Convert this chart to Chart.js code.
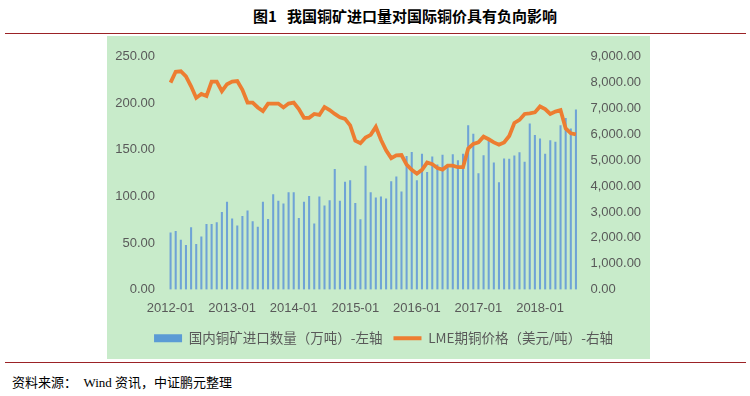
<!DOCTYPE html>
<html>
<head>
<meta charset="utf-8">
<script src="https://cdn.jsdelivr.net/npm/chart.js@4/dist/chart.umd.min.js"></script>
<style>
  html, body { margin:0; padding:0; background:#ffffff; }
  body { width:750px; height:396px; position:relative; overflow:hidden; }
  #title { position:absolute; left:15px; top:5px; width:780px; text-align:center;
    font-family:"Noto Sans CJK SC", sans-serif; font-weight:bold; font-size:15px; color:#000; white-space:pre; }
  .rule { position:absolute; left:5px; width:741px; height:1px; background:#9b2226; }
  #box { position:absolute; left:107px; top:36px; width:543px; height:323px; background:#c8ebca; }
  #c { position:absolute; left:107px; top:36px; }
  #src { position:absolute; left:12px; top:372px; font-family:"Liberation Serif","Noto Sans CJK SC",serif;
    font-size:13px; color:#000; white-space:pre; }
</style>
</head>
<body>
<div id="title">图1   我国铜矿进口量对国际铜价具有负向影响</div>
<div class="rule" style="top:33px"></div>
<div id="box"></div>
<canvas id="c" width="553" height="323"></canvas>
<div class="rule" style="top:362px"></div>
<div id="src">资料来源：  Wind 资讯，中证鹏元整理</div>
<script>
const categories = [
 "2012-01","2012-02","2012-03","2012-04","2012-05","2012-06","2012-07","2012-08","2012-09","2012-10","2012-11","2012-12",
 "2013-01","2013-02","2013-03","2013-04","2013-05","2013-06","2013-07","2013-08","2013-09","2013-10","2013-11","2013-12",
 "2014-01","2014-02","2014-03","2014-04","2014-05","2014-06","2014-07","2014-08","2014-09","2014-10","2014-11","2014-12",
 "2015-01","2015-02","2015-03","2015-04","2015-05","2015-06","2015-07","2015-08","2015-09","2015-10","2015-11","2015-12",
 "2016-01","2016-02","2016-03","2016-04","2016-05","2016-06","2016-07","2016-08","2016-09","2016-10","2016-11","2016-12",
 "2017-01","2017-02","2017-03","2017-04","2017-05","2017-06","2017-07","2017-08","2017-09","2017-10","2017-11","2017-12",
 "2018-01","2018-02","2018-03","2018-04","2018-05","2018-06","2018-07","2018-08"
];
const importVolume = [
 61,62.5,53,47.5,66.5,48.5,56.5,70,70,72,83,94,
 76,68.5,78.5,84.5,73,67,94,75.5,102,95,92,104,
 104,76.5,94,100,70.5,99.5,90,95.5,129,95,115.5,117,
 92.5,75,132.5,104,98.5,99.5,97.5,116,121,105,143,147.5,
 117,145.5,126,142.5,134,144.5,131.5,145,138.5,145.5,176,167,
 124.5,144,161,136,115,140.5,140,143.5,147,137,178,165.5,
 162,145.5,160,158.5,176,184,172.5,193
];
const lmePrice = [
 8000,8420,8440,8240,7860,7410,7560,7480,8040,8040,7670,7940,
 8040,8060,7720,7230,7230,7040,6900,7190,7190,7190,7040,7190,
 7230,6980,6640,6640,6790,6750,7060,6940,6790,6660,6600,6350,
 5760,5660,5880,5980,6290,5790,5380,5080,5190,5200,4830,4630,
 4480,4630,4910,4850,4700,4640,4790,4790,4730,4730,5450,5630,
 5690,5910,5810,5690,5600,5690,5940,6440,6560,6790,6810,6850,
 7080,6980,6790,6880,6940,6230,6040,6000
];
const leftTicks = [0, 50, 100, 150, 200, 250];
const rightTicks = [0, 1000, 2000, 3000, 4000, 5000, 6000, 7000, 8000, 9000];
const seriesNames = ["国内铜矿进口数量（万吨）-左轴", "LME期铜价格（美元/吨）-右轴"];

const gray = '#595959';
const tickFont = { family: "'Liberation Sans', Arial, sans-serif", size: 13 };
const barColor = '#6fa3d6';
const legendBarColor = '#5b9bd5';
const lineColor = '#ed7d31';

new Chart(document.getElementById('c'), {
  data: {
    labels: categories,
    datasets: [
      { type: 'bar', label: seriesNames[0], data: importVolume, yAxisID: 'yL',
        backgroundColor: barColor, barThickness: 1.4, order: 2 },
      { type: 'line', label: seriesNames[1], data: lmePrice, yAxisID: 'yR',
        borderColor: lineColor, backgroundColor: lineColor, borderWidth: 3.8,
        pointRadius: 0, tension: 0, order: 1 }
    ]
  },
  options: {
    responsive: false,
    animation: false,
    layout: { padding: { top: 16, left: 0, right: 0, bottom: 4 } },
    plugins: {
      tooltip: { enabled: false },
      legend: {
        position: 'bottom',
        labels: {
          color: gray,
          font: { family: "'Noto Sans CJK SC', sans-serif", size: 13.5 },
          usePointStyle: true,
          pointStyleWidth: 28,
          boxHeight: 8,
          padding: 11,
          generateLabels: (chart) => [
            { text: seriesNames[0], fillStyle: legendBarColor, strokeStyle: legendBarColor, lineWidth: 0,
              pointStyle: 'rect', datasetIndex: 0, fontColor: gray },
            { text: seriesNames[1], fillStyle: lineColor, strokeStyle: lineColor, lineWidth: 3.8,
              pointStyle: 'line', datasetIndex: 1, fontColor: gray }
          ]
        }
      }
    },
    scales: {
      x: {
        type: 'category',
        offset: true,
        grid: { display: false, drawTicks: false },
        border: { display: false },
        ticks: {
          color: gray, font: tickFont, autoSkip: false, maxRotation: 0, minRotation: 0, padding: 11,
          callback: function(v, i) { return i % 12 === 0 ? categories[i] : ''; }
        },
        afterFit: (s) => { s.height = 31; }
      },
      yL: {
        position: 'left',
        min: 0, max: 250,
        grid: { display: false, drawTicks: false },
        border: { display: false },
        afterBuildTicks: (s) => { s.ticks = leftTicks.map(v => ({ value: v })); },
        ticks: { color: gray, font: tickFont, padding: 13,
          callback: (v) => Number(v).toFixed(2) },
        afterFit: (s) => { s.width = 61; }
      },
      yR: {
        position: 'right',
        min: 0, max: 9000,
        grid: { display: false, drawTicks: false },
        border: { display: false },
        afterBuildTicks: (s) => { s.ticks = rightTicks.map(v => ({ value: v })); },
        ticks: { color: gray, font: tickFont, padding: 12,
          callback: (v) => Number(v).toLocaleString('en-US', { minimumFractionDigits: 2, maximumFractionDigits: 2 }) },
        afterFit: (s) => { s.width = 81.5; }
      }
    }
  }
});
</script>
</body>
</html>
